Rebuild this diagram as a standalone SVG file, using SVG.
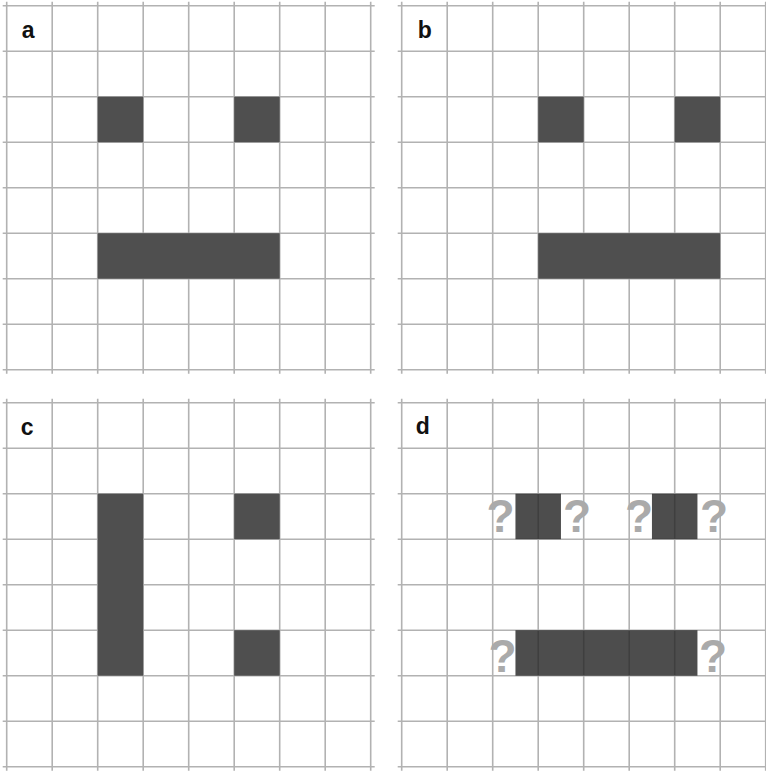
<svg xmlns="http://www.w3.org/2000/svg" xmlns:xlink="http://www.w3.org/1999/xlink" width="766" height="772" viewBox="0 0 766 772">
  <style>
    .grid line { stroke: #b2b2b2; stroke-width: 1.6; }
    .cell { fill: #4f4f4f; }
    .cellT { fill: #262626; fill-opacity: 0.82; }
    .lbl { font-family: "Liberation Sans", Arial, sans-serif; font-weight: bold; font-size: 23px; fill: #111; }
    .q { font-family: "Liberation Sans", Arial, sans-serif; font-weight: bold; font-size: 46px; fill: #aaaaaa; text-anchor: middle; }
  </style>
  <defs>
    <g id="grid" class="grid">
      <line x1="0" y1="-4" x2="0" y2="368"/>
      <line x1="45.5" y1="-4" x2="45.5" y2="368"/>
      <line x1="91" y1="-4" x2="91" y2="368"/>
      <line x1="136.5" y1="-4" x2="136.5" y2="368"/>
      <line x1="182" y1="-4" x2="182" y2="368"/>
      <line x1="227.5" y1="-4" x2="227.5" y2="368"/>
      <line x1="273" y1="-4" x2="273" y2="368"/>
      <line x1="318.5" y1="-4" x2="318.5" y2="368"/>
      <line x1="364" y1="-4" x2="364" y2="368"/>
      <line x1="-4" y1="0" x2="368" y2="0"/>
      <line x1="-4" y1="45.5" x2="368" y2="45.5"/>
      <line x1="-4" y1="91" x2="368" y2="91"/>
      <line x1="-4" y1="136.5" x2="368" y2="136.5"/>
      <line x1="-4" y1="182" x2="368" y2="182"/>
      <line x1="-4" y1="227.5" x2="368" y2="227.5"/>
      <line x1="-4" y1="273" x2="368" y2="273"/>
      <line x1="-4" y1="318.5" x2="368" y2="318.5"/>
      <line x1="-4" y1="364" x2="368" y2="364"/>
    </g>
  </defs>
  <rect width="766" height="772" fill="#ffffff"/>

  <g id="panel-a" transform="translate(6.7,5.7)">
    <use xlink:href="#grid"/>
    <rect class="cell" x="91" y="91" width="45.5" height="45.5"/>
    <rect class="cell" x="227.5" y="91" width="45.5" height="45.5"/>
    <rect class="cell" x="91" y="227.5" width="182" height="45.5"/>
    <text class="lbl" x="15" y="32">a</text>
  </g>

  <g id="panel-b" transform="translate(401.7,5.7)">
    <use xlink:href="#grid"/>
    <rect class="cell" x="136.5" y="91" width="45.5" height="45.5"/>
    <rect class="cell" x="273" y="91" width="45.5" height="45.5"/>
    <rect class="cell" x="136.5" y="227.5" width="182" height="45.5"/>
    <text class="lbl" x="16" y="32">b</text>
  </g>

  <g id="panel-c" transform="translate(6.7,402.7)">
    <use xlink:href="#grid"/>
    <rect class="cell" x="91" y="91" width="45.5" height="182"/>
    <rect class="cell" x="227.5" y="91" width="45.5" height="45.5"/>
    <rect class="cell" x="227.5" y="227.5" width="45.5" height="45.5"/>
    <text class="lbl" x="14" y="32">c</text>
  </g>

  <g id="panel-d" transform="translate(401.7,402.7)">
    <use xlink:href="#grid"/>
    <rect class="cellT" x="113.75" y="91" width="45.5" height="45.5"/>
    <rect class="cellT" x="250.25" y="91" width="45.5" height="45.5"/>
    <rect class="cellT" x="113.75" y="227.5" width="182" height="45.5"/>
    <text class="lbl" x="14" y="31.5">d</text>
    <text class="q" x="98.8" y="129.3">?</text>
    <text class="q" x="175.3" y="129.3">?</text>
    <text class="q" x="237.3" y="129.3">?</text>
    <text class="q" x="312.3" y="129.3">?</text>
    <text class="q" x="100.8" y="269">?</text>
    <text class="q" x="311.3" y="269">?</text>
  </g>
</svg>
